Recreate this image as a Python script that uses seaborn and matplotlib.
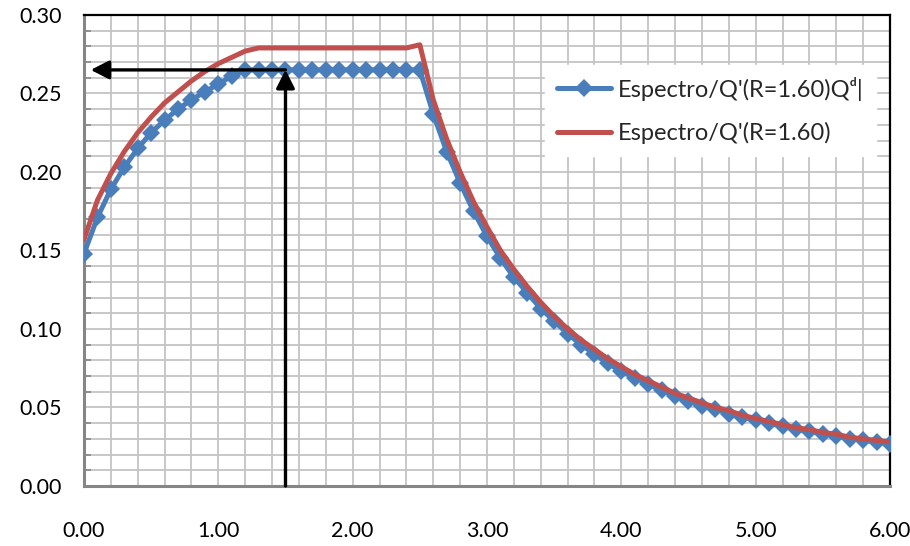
"""Espectro de diseño: Sa/Q' vs periodo."""

import matplotlib
matplotlib.use("Agg")
import matplotlib.pyplot as plt
import seaborn as sns
import numpy as np
from matplotlib.ticker import MultipleLocator, FormatStrFormatter

# Periodos (s)
periods = [
    0.0, 0.1, 0.2, 0.3, 0.4, 0.5, 0.6, 0.7, 0.8, 0.9,
    1.0, 1.1, 1.2, 1.3, 1.4, 1.5, 1.6, 1.7, 1.8, 1.9,
    2.0, 2.1, 2.2, 2.3, 2.4, 2.5, 2.6, 2.7, 2.8, 2.9,
    3.0, 3.1, 3.2, 3.3, 3.4, 3.5, 3.6, 3.7, 3.8, 3.9,
    4.0, 4.1, 4.2, 4.3, 4.4, 4.5, 4.6, 4.7, 4.8, 4.9,
    5.0, 5.1, 5.2, 5.3, 5.4, 5.5, 5.6, 5.7, 5.8, 5.9,
    6.0,
]

# Espectro/Q'(R=1.60)Qd  (azul, con marcadores)
spec_qd = [
    0.148, 0.171, 0.189, 0.203, 0.215, 0.225, 0.233, 0.240, 0.246, 0.251,
    0.256, 0.261, 0.265, 0.265, 0.265, 0.265, 0.265, 0.265, 0.265, 0.265,
    0.265, 0.265, 0.265, 0.265, 0.265, 0.265, 0.237, 0.213, 0.193, 0.175,
    0.159, 0.145, 0.133, 0.123, 0.113, 0.105, 0.097, 0.090, 0.084, 0.078,
    0.073, 0.069, 0.065, 0.061, 0.057, 0.054, 0.051, 0.049, 0.046, 0.044,
    0.042, 0.040, 0.038, 0.036, 0.035, 0.033, 0.032, 0.030, 0.029, 0.028,
    0.027,
]

# Espectro/Q'(R=1.60)  (rojo)
spec_q = [
    0.157, 0.182, 0.199, 0.213, 0.225, 0.235, 0.244, 0.251, 0.258, 0.264,
    0.269, 0.273, 0.277, 0.279, 0.279, 0.279, 0.279, 0.279, 0.279, 0.279,
    0.279, 0.279, 0.279, 0.279, 0.279, 0.281, 0.246, 0.221, 0.200, 0.181,
    0.165, 0.150, 0.138, 0.127, 0.117, 0.108, 0.100, 0.093, 0.087, 0.081,
    0.076, 0.071, 0.067, 0.063, 0.059, 0.056, 0.053, 0.050, 0.048, 0.045,
    0.043, 0.041, 0.039, 0.037, 0.036, 0.034, 0.033, 0.031, 0.030, 0.029,
    0.028,
]

labels = ["Espectro/Q'(R=1.60)Q\u1d48|", "Espectro/Q'(R=1.60)"]

# Lectura del espectro
read_period = 1.5
read_end = 0.05

# Set style
sns.set_style("whitegrid")
plt.rcParams['font.family'] = ['Lato', 'DejaVu Sans']

fig = plt.figure(figsize=(9.1, 5.46), dpi=100)
ax = fig.add_axes([0.0923, 0.110, 0.8857, 0.8626])

blue = '#4a7ebb'
red = '#c0504d'

sns.lineplot(x=periods, y=spec_qd, ax=ax, color=blue, linewidth=3.6,
             marker='D', markersize=9, markeredgewidth=0,
             label=labels[0], zorder=3)
sns.lineplot(x=periods, y=spec_q, ax=ax, color=red, linewidth=3.6,
             label=labels[1], zorder=4)

# Flechas de lectura
read_value = np.interp(read_period, periods, spec_qd)
arrow = dict(arrowstyle='-|>,head_length=0.55,head_width=0.28',
             mutation_scale=20, lw=2.4, color='black',
             shrinkA=0, shrinkB=0)
ax.annotate('', xy=(read_period, read_value), xytext=(read_period, 0),
            arrowprops=arrow, zorder=5)
ax.annotate('', xy=(read_end, read_value), xytext=(read_period, read_value),
            arrowprops=arrow, zorder=5)

# Axes
ax.set_xlim(0, 6)
ax.set_ylim(0, 0.30)
ax.xaxis.set_major_locator(MultipleLocator(1.0))
ax.xaxis.set_minor_locator(MultipleLocator(0.2))
ax.yaxis.set_major_locator(MultipleLocator(0.05))
ax.yaxis.set_minor_locator(MultipleLocator(0.01))
ax.xaxis.set_major_formatter(FormatStrFormatter('%.2f'))
ax.yaxis.set_major_formatter(FormatStrFormatter('%.2f'))

ax.grid(which='both', color='#c4c4c4', linewidth=1.3)
ax.set_axisbelow(True)

ax.tick_params(axis='x', which='both', length=0, pad=25, labelsize=15.5,
               colors='black')
ax.tick_params(axis='y', which='major', direction='out', length=5, width=1.5,
               color='#868686', pad=11, labelsize=15.5, labelcolor='black')
ax.tick_params(axis='y', which='minor', direction='in', length=5, width=1.2,
               color='#868686', left=True)

for side in ['left', 'bottom']:
    ax.spines[side].set_color('#868686')
    ax.spines[side].set_linewidth(2.2)
for side in ['top', 'right']:
    ax.spines[side].set_color('black')
    ax.spines[side].set_linewidth(1.6)
    ax.spines[side].set_visible(True)

leg = ax.legend(loc='upper right', bbox_to_anchor=(0.9825, 0.894),
                fontsize=17, frameon=True, fancybox=False,
                facecolor='white', edgecolor='white', framealpha=1,
                handlelength=2.3, handletextpad=0.3, labelspacing=0.9,
                borderpad=0.5, borderaxespad=0)
leg.set_zorder(6)

ax.set_xlabel('')
ax.set_ylabel('')

plt.savefig('out.png', dpi=100)
plt.close()
